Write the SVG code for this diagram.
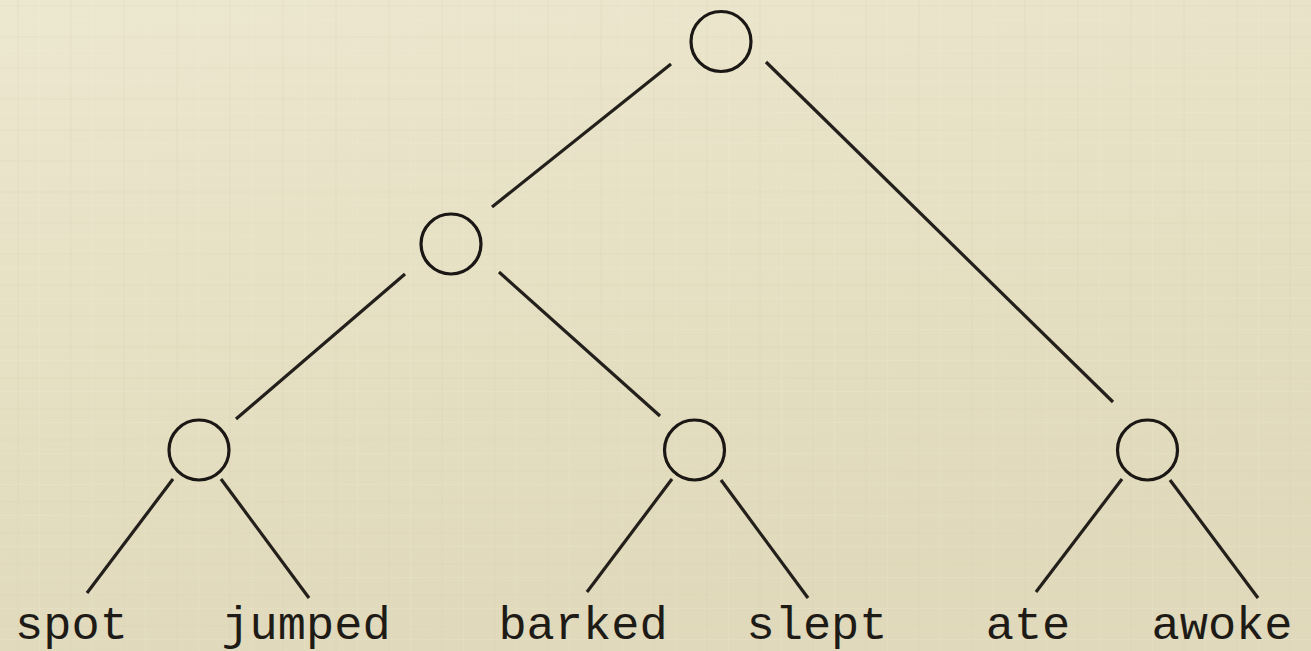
<svg xmlns="http://www.w3.org/2000/svg" width="1311" height="651" viewBox="0 0 1311 651">
  <style>
    .node circle { fill: none; stroke: #1a1714; stroke-width: 3.2; }
    .edges line { stroke: #231f1b; stroke-width: 3.2; stroke-linecap: butt; }
    .leaf text { font-family: "Liberation Mono", "Courier New", monospace; font-size: 47px; fill: #1e1b17; text-anchor: middle; }
  </style>
  <defs>
    <linearGradient id="bg" x1="0" y1="0" x2="0.3" y2="1">
      <stop offset="0" stop-color="#ece7cf"/>
      <stop offset="0.5" stop-color="#e6e0c4"/>
      <stop offset="1" stop-color="#e0d9bb"/>
    </linearGradient>
    <pattern id="weave" width="53" height="31" patternUnits="userSpaceOnUse">
      <rect x="0" y="5" width="53" height="2" fill="#d8cfae" opacity="0.12"/>
      <rect x="0" y="19" width="53" height="1" fill="#f4f0dc" opacity="0.15"/>
      <rect x="17" y="0" width="2" height="31" fill="#d5cca9" opacity="0.1"/>
      <rect x="39" y="0" width="1" height="31" fill="#f5f1de" opacity="0.15"/>
    </pattern>
  </defs>
  <rect width="1311" height="651" fill="url(#bg)"/>
  <rect width="1311" height="651" fill="url(#weave)"/>

  <g class="edges">
    <line x1="671" y1="64" x2="492" y2="207"/>
    <line x1="766" y1="62" x2="1113" y2="402"/>
    <line x1="405" y1="274" x2="236" y2="419"/>
    <line x1="499" y1="272" x2="660" y2="416"/>
    <line x1="173" y1="479" x2="87" y2="593"/>
    <line x1="221" y1="479" x2="309" y2="598"/>
    <line x1="672" y1="479" x2="587" y2="592"/>
    <line x1="721" y1="480" x2="808" y2="598"/>
    <line x1="1122" y1="479" x2="1036" y2="592"/>
    <line x1="1170" y1="480" x2="1258" y2="598"/>
  </g>

  <g id="n-root" class="node"><circle cx="721" cy="41.5" r="30"/></g>
  <g id="n-mid" class="node"><circle cx="451" cy="244" r="30"/></g>
  <g id="n-left" class="node"><circle cx="199" cy="450" r="30"/></g>
  <g id="n-center" class="node"><circle cx="694.5" cy="450" r="30"/></g>
  <g id="n-right" class="node"><circle cx="1147.5" cy="450" r="30"/></g>

  <g id="leaf-spot" class="leaf"><text x="71.5" y="639">spot</text></g>
  <g id="leaf-jumped" class="leaf"><text x="306" y="639">jumped</text></g>
  <g id="leaf-barked" class="leaf"><text x="583" y="639">barked</text></g>
  <g id="leaf-slept" class="leaf"><text x="817" y="639">slept</text></g>
  <g id="leaf-ate" class="leaf"><text x="1028" y="639">ate</text></g>
  <g id="leaf-awoke" class="leaf"><text x="1222" y="639">awoke</text></g>
</svg>
